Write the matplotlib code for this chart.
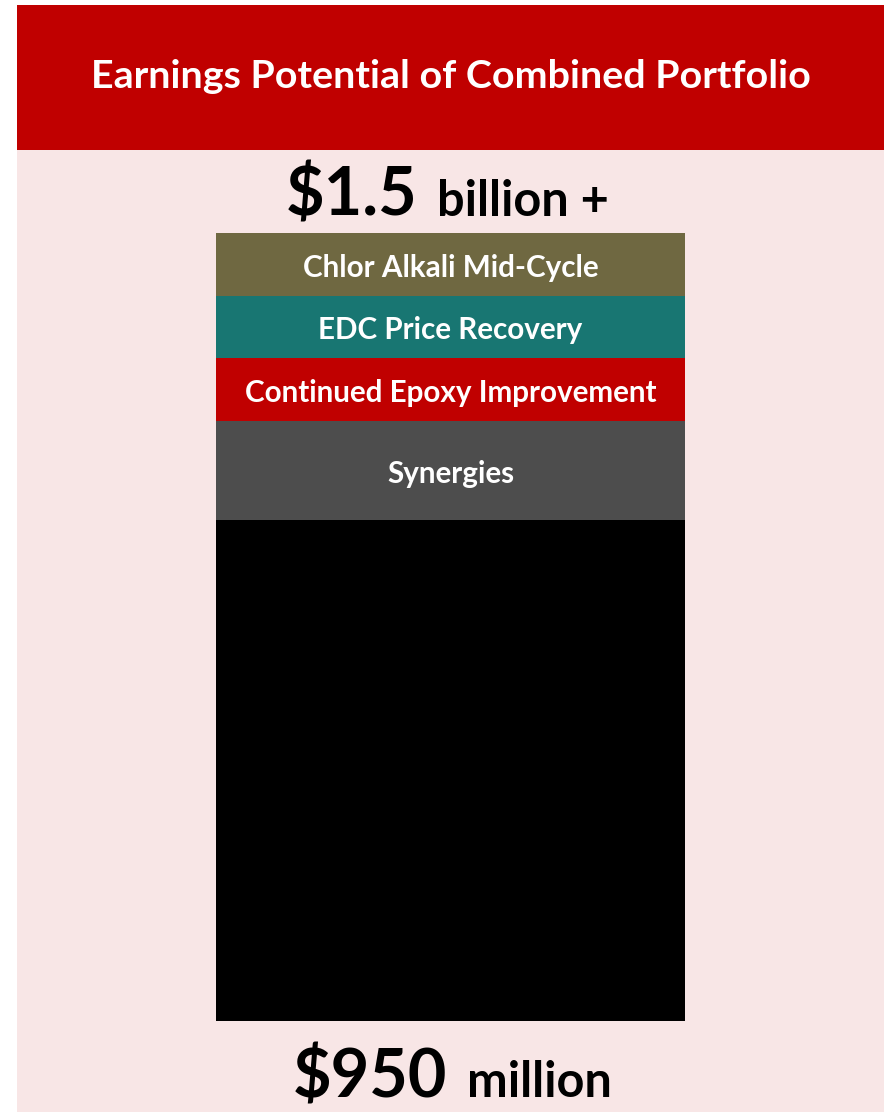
import matplotlib
matplotlib.use("Agg")
import matplotlib.pyplot as plt
from matplotlib.patches import Rectangle

# ---- data ----
segments = ["Base", "Synergies", "Continued Epoxy Improvement",
            "EDC Price Recovery", "Chlor Alkali Mid-Cycle"]
values = [950, 186, 121, 117, 119]          # $ million
show_label = [False, True, True, True, True]
colors = ["#000000", "#4D4D4D", "#C00000", "#187672", "#6F6841"]

title = "Earnings Potential of Combined Portfolio"
top_big, top_small = "$1.5", "billion +"
bot_big, bot_small = "$950", "million"

FONT = ["Lato", "DejaVu Sans"]
plt.rcParams["font.family"] = FONT

W, H = 887, 1112
fig = plt.figure(figsize=(W / 100, H / 100), dpi=100)
fig.patch.set_facecolor("white")


def fx(px):
    return px / W


def fy(py):
    return 1 - py / H


# panel backgrounds
fig.add_artist(Rectangle((fx(17), fy(1112)), fx(884) - fx(17), fy(150) - fy(1112),
                         transform=fig.transFigure, facecolor="#F8E6E6",
                         edgecolor="none", zorder=0))
fig.add_artist(Rectangle((fx(17), fy(150)), fx(884) - fx(17), fy(5) - fy(150),
                         transform=fig.transFigure, facecolor="#C00000",
                         edgecolor="none", zorder=0))

fig.text(fx(451), fy(88), title, ha="center", va="baseline", color="white",
         fontsize=28.4, fontweight="bold")

# stacked bar
total = sum(values)
ax = fig.add_axes([fx(216), fy(1021), fx(685) - fx(216), fy(233) - fy(1021)])
ax.set_xlim(-0.5, 0.5)
ax.set_ylim(0, total)
ax.axis("off")
ax.patch.set_alpha(0)

bottom = 0
for name, v, c, show in zip(segments, values, colors, show_label):
    ax.bar(0, v, width=1.0, bottom=bottom, color=c, linewidth=0)
    if show:
        ax.annotate(name, xy=(0, bottom + v / 2), xytext=(0, -2.5),
                    textcoords="offset points", ha="center", va="center",
                    color="white", fontsize=21.3, fontweight="bold")
    bottom += v

# value labels
fig.text(fx(418), fy(216), top_big, ha="right", va="baseline", color="black",
         fontsize=48, fontweight="bold")
fig.text(fx(437), fy(216), top_small, ha="left", va="baseline", color="black",
         fontsize=35, fontweight="bold")
fig.text(fx(447), fy(1097), bot_big, ha="right", va="baseline", color="black",
         fontsize=48, fontweight="bold")
fig.text(fx(467), fy(1097), bot_small, ha="left", va="baseline", color="black",
         fontsize=35, fontweight="bold")

fig.savefig("out.png", dpi=100, facecolor=fig.get_facecolor())
